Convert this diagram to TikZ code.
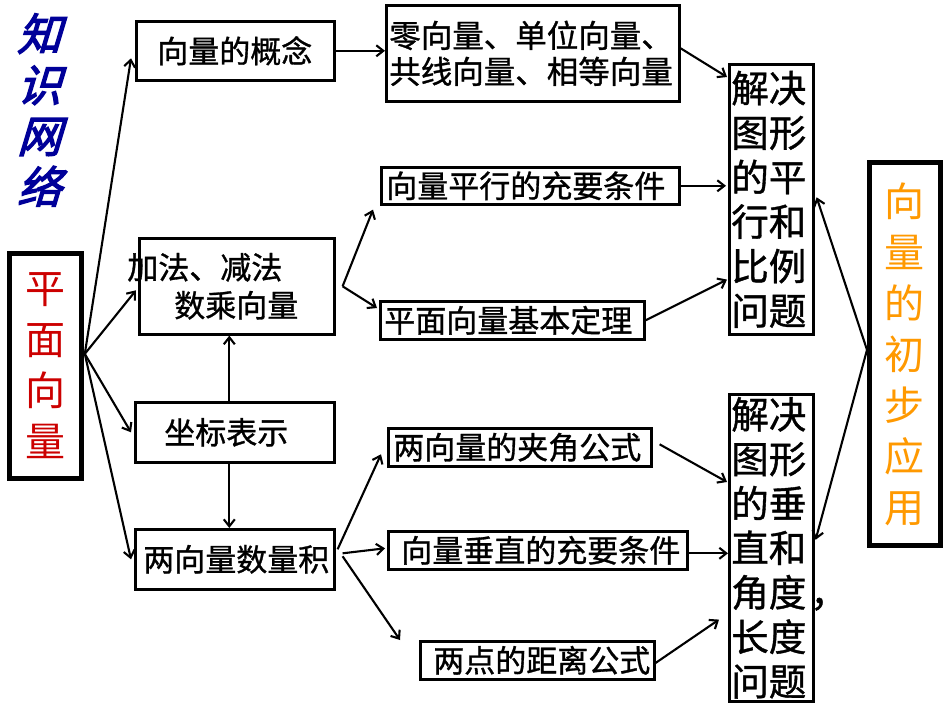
\documentclass[tikz,border=0pt]{standalone}
\usepackage{fontspec}
\newfontfamily\cjk[FakeBold=1]{Noto Sans CJK SC}
\newfontfamily\cjkplain{Noto Sans CJK SC}
\newfontfamily\cjkslant[FakeSlant=0.3,FakeBold=3]{Noto Sans CJK SC}
\usetikzlibrary{arrows.meta,calc}
\definecolor{titleblue}{RGB}{0,0,153}
\definecolor{mainred}{RGB}{204,0,0}
\definecolor{apporange}{RGB}{255,153,0}
\tikzset{
  box/.style={draw=black, line width=2.6pt, anchor=north west, inner ysep=0pt, align=left,
    font=\cjk\fontsize{31}{36}\selectfont},
  bigbox/.style={draw=black, line width=4.8pt, anchor=north west, inner sep=0pt, align=center,
    font=\cjkplain\fontsize{40}{51}\selectfont},
  colbox/.style={draw=black, line width=2.6pt, anchor=north west, inner ysep=0pt, inner xsep=2pt,
    text width=80pt, align=left, font=\cjk\fontsize{37.5}{44.5}\selectfont},
  link/.style={line width=2.1pt, -{Straight Barb[length=7pt,width=11pt]}},
}
\begin{document}
\begin{tikzpicture}[x=1pt,y=-1pt]
\useasboundingbox (0,0) rectangle (950,713);
\fill[white] (0,0) rectangle (950,713);

% title
\node[font=\cjkslant\fontsize{44}{51}\selectfont, text=titleblue, align=center, inner sep=0pt] (title) at (39,110) {知\\识\\网\\络};

% main boxes
\node[bigbox, minimum width=72, minimum height=225, text=mainred] (pm) at (7,251) {平\\面\\向\\量};
\node[bigbox, minimum width=71, minimum height=383, text=apporange] (yy) at (867,160) {向\\量\\的\\初\\步\\应\\用};

% left column
\node[box, minimum height=59, inner xsep=21, text width=156] (gn) at (135,20) {向量的概念};
\node[box, minimum height=96, inner xsep=0, text width=195, font=\cjk\fontsize{31}{38}\selectfont] (jf) at (138,237)
  {\hspace*{-12pt}加法、减法\\\hspace*{35pt}数乘向量};
\node[box, minimum height=60, inner xsep=29, text width=141] (zb) at (134,401) {坐标表示};
\node[box, minimum height=60, inner xsep=8, text width=183] (ljj) at (134,528) {两向量数量积};

% middle column
\node[box, minimum height=96, inner xsep=3, text width=287, font=\cjk\fontsize{31.5}{36}\selectfont] (lx) at (385,4)
  {零向量、单位向量、\\共线向量、相等向量};
\node[box, minimum height=37, inner xsep=5, text width=288] (pxt) at (380,166) {向量平行的充要条件};
\node[box, minimum height=38, inner xsep=4, text width=256] (pmt) at (379,300) {平面向量基本定理};
\node[box, minimum height=38, inner xsep=5, text width=253] (jjg) at (387,427) {两向量的夹角公式};
\node[box, minimum height=38, inner xsep=13, text width=273] (czt) at (387,530) {向量垂直的充要条件};
\node[box, minimum height=38, inner xsep=13, text width=208] (jlg) at (419,640) {两点的距离公式};

% right column
\node[colbox, minimum height=270] (jj1) at (728,63) {解决\\图形\\的平\\行和\\比例\\问题};
\node[colbox, minimum height=307] (jj2) at (728,393) {解决\\图形\\的垂\\直和\\角度\rlap{\kern4pt，}\\长度\\问题};

% connector origins
\coordinate (pmo) at ([xshift=1pt,yshift=12pt]pm.east);
\coordinate (jfo) at ([xshift=7pt]jf.east);
\coordinate (zbt) at ([xshift=-5.5pt]zb.north);
\coordinate (zbb) at ([xshift=-5.5pt]zb.south);
\coordinate (czo) at ([yshift=-3pt]czt.east);
\coordinate (yyo) at ([yshift=4pt]yy.west);

% from 平面向量
\draw[link] (pmo) -- ([xshift=-4pt,yshift=-7.5pt]gn.west);
\draw[link] (pmo) -- ([xshift=-2pt,yshift=-4pt]jf.west);
\draw[link] (pmo) -- ([xshift=-3pt]zb.west);
\draw[link] (pmo) -- ([xshift=-3pt]ljj.west);

% 坐标表示
\draw[link] (zbt) -- (zbt |- jf.south);
\draw[link] (zbb) -- (zbb |- ljj.north);

% 向量的概念
\draw[link] (gn.east) -- (gn.east -| lx.west);
\draw[link] ([yshift=5pt]lx.east) -- ([xshift=-1pt,yshift=-14pt]jj1.north west);

% 加法减法
\draw[link] (jfo) -- ([xshift=-7pt,yshift=-4pt]pxt.south west);
\draw[link] (jfo) -- ([xshift=-2pt,yshift=-8pt]pmt.north west);
\draw[link, shorten >=2pt] (pxt.east) -- (pxt.east -| jj1.west);
\draw[link] (pmt.east) -- ([xshift=-1pt,yshift=56pt]jj1.south west);

% 两向量数量积
\draw[link] ([xshift=2pt,yshift=10pt]ljj.east) -- ([xshift=-6pt,yshift=-7pt]jjg.west);
\draw[link] ([xshift=7pt,yshift=6pt]ljj.east) -- ([xshift=-2pt,yshift=2pt]czt.west);
\draw[link] ([xshift=7pt,yshift=3pt]ljj.east) -- ([xshift=-19pt]jlg.north west);
\draw[link] ([xshift=7pt,yshift=3pt]jjg.east) -- ([xshift=-1pt,yshift=-89pt]jj2.north west);
\draw[link] (czo) -- (czo -| jj2.west);
\draw[link] ([xshift=-2pt,yshift=-4pt]jlg.east) -- ([xshift=-9pt,yshift=83pt]jj2.south west);

% 向量的初步应用
\draw[link] (yyo) -- ([xshift=2pt,yshift=2pt]jj1.east);
\draw[link] (yyo) -- ([xshift=1pt,yshift=8pt]jj2.east);
\end{tikzpicture}
\end{document}
